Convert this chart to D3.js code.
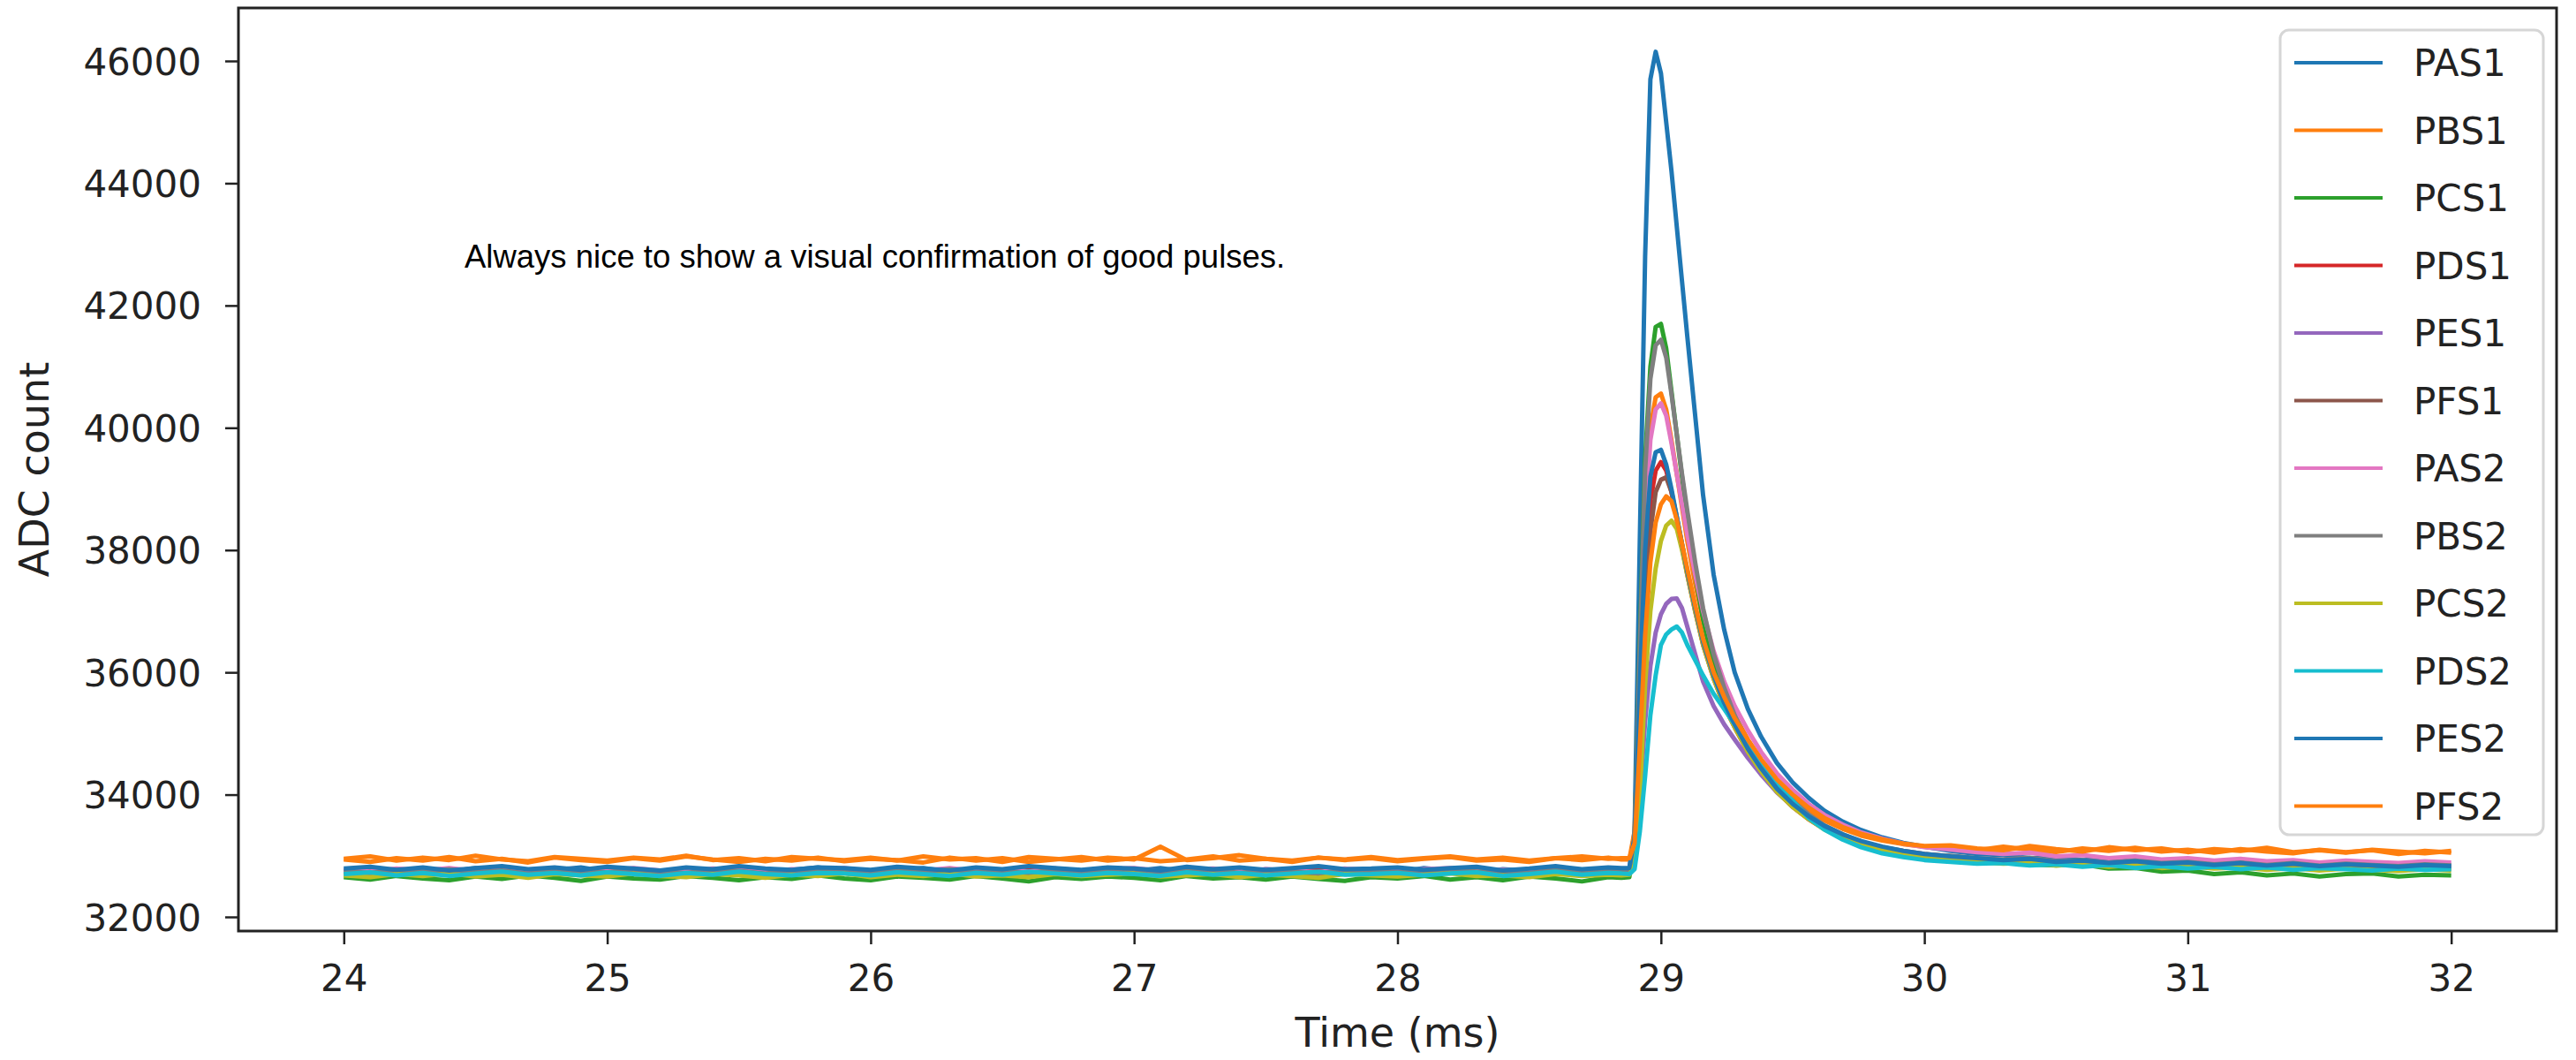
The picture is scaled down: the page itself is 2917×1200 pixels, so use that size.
<!DOCTYPE html>
<html>
<head>
<meta charset="utf-8">
<script src="https://cdn.jsdelivr.net/npm/d3@7/dist/d3.min.js"></script>
<style>
  body { margin: 0; background: #fff; }
  .tick text { font-family: "DejaVu Sans", sans-serif; font-size: 42px; fill: #222; }
  .tick line { stroke: #222; stroke-width: 2.5px; }
  .axis-title { font-family: "DejaVu Sans", sans-serif; font-size: 46px; fill: #222; }
  .legend-text { font-family: "DejaVu Sans", sans-serif; font-size: 42px; fill: #222; }
  .note { font-family: "Liberation Sans", Arial, sans-serif; font-size: 36.5px; fill: #000; }
</style>
</head>
<body>
<svg id="chart" width="2917" height="1200"></svg>
<script>
// sample times (ms): flat part, pulse, tail
var timeMs = [
  24.0, 24.1, 24.2, 24.3, 24.4, 24.5, 24.6, 24.7, 24.8, 24.9,
  25.0, 25.1, 25.2, 25.3, 25.4, 25.5, 25.6, 25.7, 25.8, 25.9,
  26.0, 26.1, 26.2, 26.3, 26.4, 26.5, 26.6, 26.7, 26.8, 26.9,
  27.0, 27.1, 27.2, 27.3, 27.4, 27.5, 27.6, 27.7, 27.8, 27.9,
  28.0, 28.1, 28.2, 28.3, 28.4, 28.5, 28.6, 28.7, 28.8, 28.85,
  28.88, 28.90, 28.92, 28.94, 28.96, 28.98, 29.00, 29.02, 29.04, 29.06,
  29.08, 29.10, 29.13, 29.16, 29.20, 29.24, 29.28, 29.33, 29.38, 29.44,
  29.50, 29.56, 29.62, 29.69, 29.76, 29.84, 29.92, 30.00,
  30.1, 30.2, 30.3, 30.4, 30.5, 30.6, 30.7, 30.8, 30.9, 31.0,
  31.1, 31.2, 31.3, 31.4, 31.5, 31.6, 31.7, 31.8, 31.9, 32.0
];

var pas1 = [
  32760, 32790, 32730, 32780, 32740, 32800, 32750, 32720, 32770, 32810,
  32740, 32760, 32700, 32780, 32750, 32790, 32730, 32770, 32810, 32750,
  32720, 32760, 32800, 32740, 32780, 32730, 32760, 32790, 32720, 32770,
  32750, 32800, 32740, 32760, 32710, 32780, 32750, 32790, 32740, 32770,
  32730, 32800, 32760, 32720, 32780, 32750, 32790, 32740, 32770, 32760,
  32780, 33400, 38200, 42800, 45700, 46150, 45800, 45000, 44200, 43300,
  42400, 41500, 40200, 38900, 37600, 36700, 36000, 35400, 34950, 34520,
  34200, 33950, 33740, 33560, 33420, 33300, 33210, 33150,
  33080, 33030, 33010, 32960, 32980, 32930, 32950, 32900, 32930, 32880,
  32910, 32870, 32900, 32850, 32890, 32860, 32880, 32840, 32870, 32850
];
var pbs1 = [
  32940, 32900, 32960, 32920, 32980, 32910, 32950, 32890, 32970, 32930,
  32900, 32960, 32920, 32990, 32940, 32900, 32950, 32920, 32970, 32910,
  32950, 32930, 32890, 32970, 32920, 32960, 32900, 32940, 32980, 32920,
  32960, 32910, 32940, 32990, 32920, 32950, 32900, 32970, 32930, 32960,
  32910, 32950, 32980, 32920, 32940, 32900, 32960, 32930, 32970, 32940,
  32940, 33400, 36000, 38700, 40000, 40500, 40560, 40300, 39800, 39250,
  38700, 38150, 37450, 36850, 36200, 35700, 35300, 34900, 34560, 34220,
  33960, 33750, 33580, 33440, 33330, 33250, 33190, 33150,
  33140, 33090, 33150, 33100, 33060, 33120, 33080, 33130, 33070, 33100,
  33050, 33110, 33070, 33040, 33100, 33060, 33090, 33030, 33080, 33050
];
var pcs1 = [
  32650, 32610, 32670, 32630, 32600, 32660, 32620, 32680, 32640, 32590,
  32660, 32630, 32610, 32670, 32640, 32600, 32650, 32620, 32680, 32630,
  32600, 32660, 32640, 32610, 32670, 32630, 32580, 32650, 32620, 32660,
  32640, 32600, 32670, 32630, 32650, 32610, 32660, 32620, 32590, 32650,
  32630, 32670, 32610, 32650, 32600, 32660, 32630, 32580, 32650, 32640,
  32650, 33200, 36500, 39500, 41000, 41650, 41700, 41300, 40600, 39900,
  39200, 38500, 37600, 36850, 36100, 35550, 35150, 34750, 34420, 34100,
  33850, 33650, 33480, 33340, 33220, 33120, 33050, 32990,
  32950, 32900, 32920, 32860, 32840, 32860, 32790, 32800, 32740, 32760,
  32700, 32730, 32680, 32710, 32660, 32700, 32710, 32660, 32690, 32680
];
var pds1 = [
  32720, 32750, 32700, 32740, 32690, 32730, 32760, 32710, 32740, 32700,
  32750, 32720, 32690, 32740, 32710, 32760, 32720, 32700, 32740, 32730,
  32700, 32750, 32720, 32690, 32740, 32710, 32760, 32730, 32700, 32740,
  32720, 32690, 32750, 32710, 32740, 32700, 32730, 32760, 32710, 32720,
  32740, 32700, 32730, 32750, 32690, 32720, 32760, 32710, 32740, 32730,
  32730, 33150, 35400, 37600, 38800, 39300, 39440, 39300, 38950, 38500,
  38050, 37600, 37000, 36450, 35900, 35450, 35100, 34700, 34380, 34050,
  33800, 33600, 33440, 33300, 33190, 33100, 33040, 32990,
  32950, 32910, 32890, 32910, 32860, 32880, 32840, 32870, 32830, 32850,
  32810, 32840, 32800, 32830, 32790, 32820, 32800, 32780, 32810, 32790
];
var pes1 = [
  32740, 32710, 32760, 32730, 32770, 32720, 32750, 32700, 32760, 32740,
  32720, 32770, 32740, 32710, 32750, 32730, 32770, 32720, 32740, 32760,
  32710, 32750, 32730, 32770, 32720, 32740, 32700, 32760, 32730, 32750,
  32770, 32720, 32740, 32760, 32710, 32750, 32730, 32700, 32760, 32740,
  32720, 32750, 32770, 32730, 32740, 32710, 32760, 32740, 32720, 32750,
  32750, 32900, 33900, 35200, 36100, 36650, 36950, 37120, 37200, 37210,
  37050, 36750, 36300, 35850, 35450, 35150, 34900, 34600, 34330, 34040,
  33810, 33620, 33460, 33330, 33220, 33130, 33070, 33020,
  32980, 32940, 32910, 32930, 32880, 32900, 32860, 32890, 32850, 32870,
  32830, 32860, 32820, 32850, 32810, 32840, 32820, 32800, 32830, 32810
];
var pfs1 = [
  32730, 32760, 32710, 32740, 32700, 32750, 32720, 32770, 32730, 32710,
  32750, 32720, 32740, 32700, 32760, 32730, 32710, 32750, 32740, 32720,
  32760, 32710, 32730, 32750, 32700, 32740, 32720, 32760, 32730, 32710,
  32740, 32750, 32710, 32730, 32760, 32720, 32740, 32700, 32750, 32730,
  32710, 32740, 32760, 32720, 32730, 32750, 32710, 32740, 32760, 32730,
  32730, 33000, 34800, 36900, 38300, 38950, 39150, 39190, 38950, 38550,
  38100, 37650, 37050, 36500, 35950, 35500, 35150, 34750, 34420, 34090,
  33840, 33640, 33480, 33340, 33230, 33140, 33080, 33030,
  32990, 32950, 32920, 32940, 32890, 32910, 32870, 32900, 32860, 32880,
  32840, 32870, 32830, 32860, 32820, 32850, 32830, 32810, 32840, 32820
];
var pas2 = [
  32770, 32740, 32790, 32760, 32800, 32750, 32780, 32730, 32790, 32770,
  32750, 32800, 32760, 32740, 32790, 32770, 32730, 32780, 32760, 32800,
  32740, 32780, 32760, 32800, 32750, 32770, 32740, 32790, 32760, 32780,
  32800, 32750, 32770, 32790, 32740, 32780, 32760, 32730, 32790, 32770,
  32750, 32780, 32800, 32760, 32770, 32740, 32790, 32760, 32780, 32770,
  32780, 33250, 35800, 38400, 39800, 40300, 40400, 40200, 39750, 39250,
  38750, 38250, 37600, 37000, 36350, 35850, 35450, 35050, 34700, 34350,
  34080, 33850, 33670, 33510, 33380, 33280, 33200, 33140,
  33100, 33060, 33030, 33050, 32990, 33010, 32960, 32990, 32940, 32960,
  32920, 32950, 32910, 32930, 32890, 32920, 32900, 32880, 32910, 32890
];
var pbs2 = [
  32750, 32720, 32770, 32740, 32780, 32730, 32760, 32710, 32770, 32750,
  32730, 32780, 32740, 32720, 32770, 32750, 32710, 32760, 32740, 32780,
  32720, 32760, 32740, 32780, 32730, 32750, 32720, 32770, 32740, 32760,
  32780, 32730, 32750, 32770, 32720, 32760, 32740, 32710, 32770, 32750,
  32730, 32760, 32780, 32740, 32750, 32720, 32770, 32740, 32760, 32750,
  32760, 33300, 36400, 39300, 40800, 41350, 41440, 41150, 40550, 39900,
  39250, 38650, 37800, 37050, 36300, 35750, 35300, 34850, 34500, 34150,
  33900, 33680, 33500, 33350, 33230, 33140, 33070, 33020,
  33000, 32960, 32940, 32970, 32910, 32930, 32890, 32920, 32880, 32900,
  32860, 32890, 32850, 32880, 32840, 32870, 32850, 32830, 32860, 32840
];
var pcs2 = [
  32680, 32650, 32700, 32670, 32710, 32660, 32690, 32640, 32700, 32680,
  32660, 32710, 32670, 32650, 32700, 32680, 32640, 32690, 32670, 32710,
  32650, 32690, 32670, 32710, 32660, 32680, 32650, 32700, 32670, 32690,
  32710, 32660, 32680, 32700, 32650, 32690, 32670, 32640, 32700, 32680,
  32660, 32690, 32710, 32670, 32680, 32650, 32700, 32670, 32690, 32680,
  32690, 32850, 34000, 35800, 37000, 37700, 38150, 38400, 38480, 38350,
  38000, 37600, 37000, 36450, 35900, 35450, 35100, 34700, 34380, 34050,
  33800, 33600, 33430, 33290, 33180, 33090, 33030, 32980,
  32940, 32900, 32870, 32890, 32840, 32860, 32820, 32850, 32800, 32830,
  32790, 32810, 32770, 32800, 32760, 32790, 32770, 32750, 32780, 32760
];
var pds2 = [
  32700, 32730, 32680, 32720, 32670, 32710, 32740, 32690, 32720, 32680,
  32730, 32700, 32670, 32720, 32690, 32740, 32700, 32680, 32720, 32710,
  32680, 32730, 32700, 32670, 32720, 32690, 32740, 32710, 32680, 32720,
  32700, 32670, 32730, 32690, 32720, 32680, 32710, 32740, 32690, 32700,
  32720, 32680, 32710, 32730, 32670, 32700, 32740, 32690, 32720, 32710,
  32700, 32780, 33400, 34300, 35300, 35950, 36450, 36620, 36700, 36750,
  36650, 36450, 36200, 35950, 35650, 35400, 35150, 34800, 34550, 34200,
  33900, 33620, 33430, 33265, 33140, 33040, 32980, 32930,
  32900, 32870, 32880, 32840, 32860, 32820, 32850, 32800, 32830, 32790,
  32820, 32780, 32810, 32770, 32800, 32780, 32760, 32790, 32770, 32780
];
var pes2 = [
  32790, 32820, 32770, 32810, 32760, 32800, 32830, 32780, 32810, 32770,
  32820, 32790, 32760, 32810, 32780, 32830, 32790, 32770, 32810, 32800,
  32770, 32820, 32790, 32760, 32810, 32780, 32830, 32800, 32770, 32810,
  32790, 32760, 32820, 32780, 32810, 32770, 32800, 32830, 32780, 32790,
  32810, 32770, 32800, 32820, 32760, 32790, 32830, 32780, 32810, 32800,
  32800, 33300, 35800, 38000, 39200, 39600, 39640, 39400, 39000, 38550,
  38100, 37650, 37050, 36500, 35950, 35500, 35150, 34750, 34430, 34100,
  33850, 33650, 33490, 33350, 33240, 33150, 33080, 33030,
  32990, 32960, 32930, 32950, 32900, 32920, 32880, 32910, 32870, 32890,
  32850, 32880, 32840, 32870, 32830, 32860, 32840, 32820, 32850, 32830
];
var pfs2 = [
  32950, 32990, 32920, 32970, 32930, 33000, 32940, 32910, 32980, 32950,
  32920, 32970, 32940, 33000, 32930, 32960, 32910, 32980, 32950, 32930,
  32970, 32920, 32990, 32940, 32960, 32900, 32980, 32950, 32920, 32970,
  32940, 33150, 32930, 32960, 33010, 32950, 32920, 32970, 32940, 32980,
  32930, 32960, 32990, 32940, 32970, 32920, 32960, 32990, 32950, 32960,
  32960, 33200, 34800, 36600, 37800, 38450, 38750, 38880, 38800, 38500,
  38100, 37700, 37100, 36550, 36000, 35600, 35250, 34900, 34580, 34250,
  34000, 33790, 33620, 33470, 33360, 33270, 33200, 33160,
  33170, 33120, 33090, 33160, 33110, 33070, 33140, 33090, 33120, 33060,
  33110, 33080, 33130, 33060, 33090, 33050, 33100, 33070, 33040, 33080
];

var seriesNames = ["PAS1", "PBS1", "PCS1", "PDS1", "PES1", "PFS1",
                   "PAS2", "PBS2", "PCS2", "PDS2", "PES2", "PFS2"];
var seriesValues = [pas1, pbs1, pcs1, pds1, pes1, pfs1,
                    pas2, pbs2, pcs2, pds2, pes2, pfs2];
var seriesColors = ["#1f77b4", "#ff7f0e", "#2ca02c", "#d62728", "#9467bd", "#8c564b",
                    "#e377c2", "#7f7f7f", "#bcbd22", "#17becf", "#1f77b4", "#ff7f0e"];

var xTicks = [24, 25, 26, 27, 28, 29, 30, 31, 32];
var yTicks = [32000, 34000, 36000, 38000, 40000, 42000, 44000, 46000];

var noteText = "Always nice to show a visual confirmation of good pulses.";

function renderPulses () {
  var svg = d3.select('#chart');
  var left = 270, right = 2895, top = 9, bottom = 1054;

  seriesValues.forEach(function(v, i) {
    if (v.length != timeMs.length) throw new Error(seriesNames[i] + " has " + v.length + " values");
  });

  var x = d3.scaleLinear().domain([23.6, 32.4]).range([left, right]);
  var y = d3.scaleLinear().domain([31769, 46867]).range([bottom, top]);

  svg.append("defs").append("clipPath")
    .attr("id", "plot-clip")
    .append("rect")
    .attr("x", left).attr("y", top)
    .attr("width", right - left).attr("height", bottom - top);

  var line = d3.line()
    .x(function(d) { return x(d[0]); })
    .y(function(d) { return y(d[1]); });

  // one trace per channel, drawn in legend order
  svg.append("g")
    .attr("clip-path", "url(#plot-clip)")
    .selectAll("path")
    .data(seriesValues)
    .enter()
    .append("path")
    .attr("d", function(v) { return line(d3.zip(timeMs, v)); })
    .attr("fill", "none")
    .attr("stroke", function(d, i) { return seriesColors[i]; })
    .attr("stroke-width", 5)
    .attr("stroke-linejoin", "round");

  // axes
  var xAxis = svg.append("g")
    .attr("transform", "translate(0," + bottom + ")")
    .call(d3.axisBottom(x).tickValues(xTicks).tickSize(15).tickFormat(d3.format("d")));
  xAxis.select(".domain").remove();
  xAxis.selectAll("text").attr("y", 68).attr("dy", null);

  var yAxis = svg.append("g")
    .attr("transform", "translate(" + left + ",0)")
    .call(d3.axisLeft(y).tickValues(yTicks).tickSize(15).tickFormat(d3.format("d")));
  yAxis.select(".domain").remove();
  yAxis.selectAll("text").attr("x", -42).attr("dy", "0.36em");

  // frame
  svg.append("rect")
    .attr("x", left).attr("y", top)
    .attr("width", right - left).attr("height", bottom - top)
    .attr("fill", "none")
    .attr("stroke", "#222")
    .attr("stroke-width", 3);

  svg.append("text")
    .attr("class", "axis-title")
    .attr("x", (left + right) / 2)
    .attr("y", 1185)
    .attr("text-anchor", "middle")
    .text("Time (ms)");

  svg.append("text")
    .attr("class", "axis-title")
    .attr("transform", "translate(55," + (top + bottom) / 2 + ") rotate(-90)")
    .attr("text-anchor", "middle")
    .text("ADC count");

  svg.append("text")
    .attr("class", "note")
    .attr("x", 526)
    .attr("y", 303)
    .text(noteText);

  // legend
  var legend = svg.append("g");
  legend.append("rect")
    .attr("x", 2582).attr("y", 34)
    .attr("width", 298).attr("height", 911)
    .attr("rx", 10)
    .attr("fill", "#fff").attr("fill-opacity", 0.8)
    .attr("stroke", "#d6d6d6").attr("stroke-width", 3);

  var rowH = 76.5;
  var rows = legend.selectAll("g.row")
    .data(seriesNames)
    .enter()
    .append("g")
    .attr("class", "row")
    .attr("transform", function(d, i) { return "translate(0," + (71 + i * rowH) + ")"; });

  rows.append("line")
    .attr("x1", 2598).attr("x2", 2698)
    .attr("y1", 0).attr("y2", 0)
    .attr("stroke", function(d, i) { return seriesColors[i]; })
    .attr("stroke-width", 4);

  rows.append("text")
    .attr("class", "legend-text")
    .attr("x", 2733)
    .attr("y", 15)
    .text(function(d) { return d; });
}

renderPulses();
</script>
</body>
</html>
